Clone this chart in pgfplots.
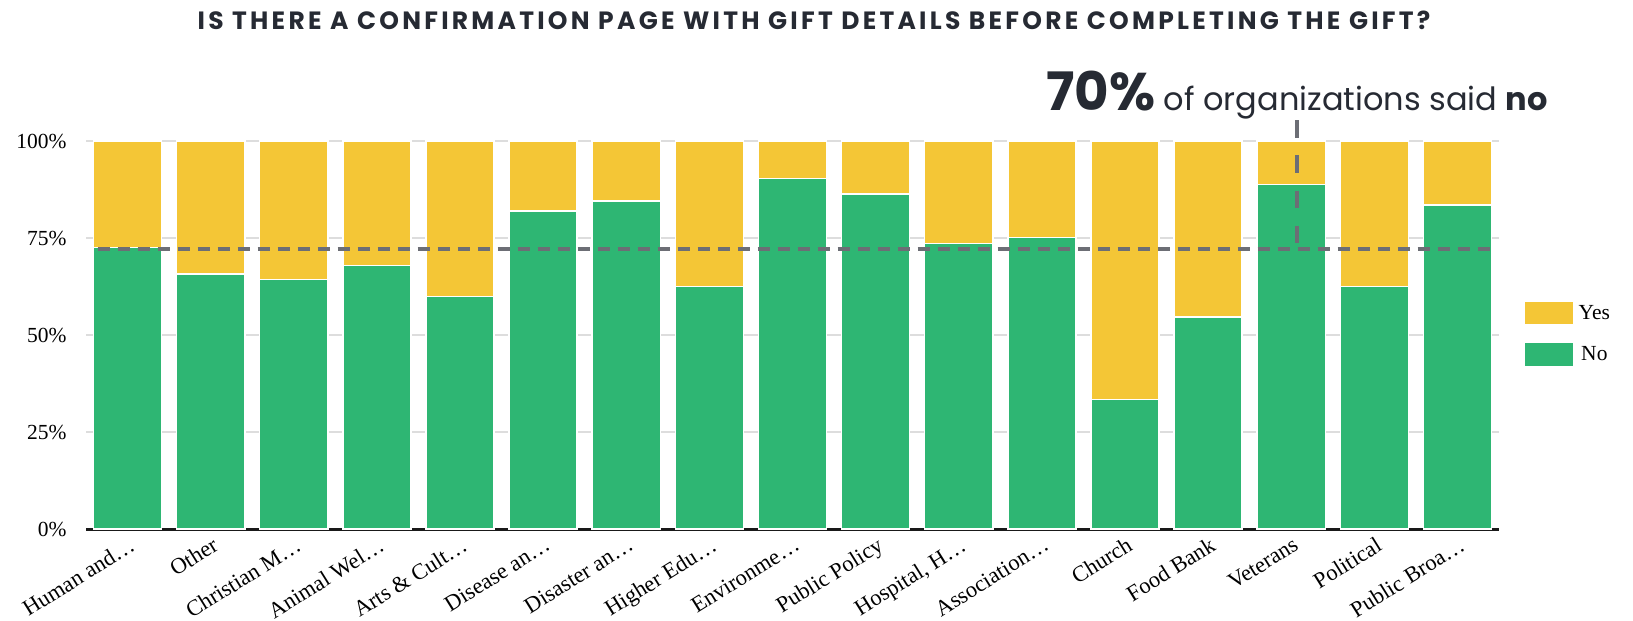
\documentclass[border=0pt]{standalone}
\usepackage{pgfplots}
\pgfplotsset{compat=1.18}
\usepackage{fontspec}
\setmainfont{Liberation Serif}
\newfontfamily\pop{Poppins}
\newfontfamily\poptitle{Poppins}[LetterSpace=13]

\definecolor{yesc}{RGB}{244,198,54}
\definecolor{noc}{RGB}{46,182,115}
\definecolor{dashc}{RGB}{108,110,117}
\definecolor{titlec}{RGB}{38,42,51}
\definecolor{gridc}{RGB}{221,221,221}

\begin{document}
\begin{tikzpicture}
\begin{axis}[
  at={(86pt,-529pt)}, anchor=south west,
  scale only axis, width=1413pt, height=388pt,
  ybar stacked, bar width=0.82,
  xmin=-0.5, xmax=16.5, ymin=0, ymax=100,
  xtick=data,
  xticklabels={Human and…, Other, Christian M…, Animal Wel…, Arts \& Cult…,
    Disease an…, Disaster an…, Higher Edu…, Environme…, Public Policy,
    {Hospital, H…}, Association…, Church, Food Bank, Veterans, Political,
    Public Broa…},
  ytick={0,25,50,75,100},
  yticklabels={0\%,25\%,50\%,75\%,100\%},
  ymajorgrids, grid style={gridc, line width=2.5pt},
  axis x line*=bottom, axis y line*=left,
  x axis line style={black!90, line width=3pt, -},
  y axis line style={draw=none},
  major tick length=0pt,
  tick label style={font=\fontsize{21.5}{24}\selectfont},
  xticklabel style={rotate=32, anchor=north east, yshift=-3pt,
    font=\fontsize{22.5}{25}\selectfont},
  yticklabel style={xshift=-16pt},
  clip=false,
  legend image code/.code={\fill[#1] (0pt,-12pt) rectangle (50pt,12pt);},
  legend style={draw=none, fill=none, at={(1.017,0.503)}, anchor=west,
    font=\fontsize{21.5}{24}\selectfont, row sep=16pt, inner sep=0pt,
    nodes={inner sep=4pt}},
  reverse legend,
]
% No (bottom)
\addplot[fill=noc, draw=white, line width=1.5pt] coordinates {
  (0,72.6) (1,65.7) (2,64.3) (3,67.9) (4,59.9) (5,82.0) (6,84.5) (7,62.5)
  (8,90.3) (9,86.3) (10,73.6) (11,75.1) (12,33.4) (13,54.6) (14,88.8)
  (15,62.5) (16,83.5)
};
% Yes (top)
\addplot[fill=yesc, draw=white, line width=1.5pt] coordinates {
  (0,27.4) (1,34.3) (2,35.7) (3,32.1) (4,40.1) (5,18.0) (6,15.5) (7,37.5)
  (8,9.7) (9,13.7) (10,26.4) (11,24.9) (12,66.6) (13,45.4) (14,11.2)
  (15,37.5) (16,16.5)
};
\legend{No,Yes}
% reference line ends, drawn after the axis so they sit on top of the bars
\coordinate (hA) at (axis cs:-0.36,72.2);
\coordinate (hB) at (axis cs:16.4,72.2);
\coordinate (vA) at (axis cs:14.07,105.4);
\coordinate (vB) at (axis cs:14.07,73.6);
\end{axis}

\draw[dashc, line width=4pt, dash pattern=on 12pt off 8pt] (hA) -- (hB);
\draw[dashc, line width=4pt, dash pattern=on 17.7pt off 17.6pt] (vA) -- (vB);

\node[anchor=base, text=titlec, inner sep=0pt,
  font=\poptitle\bfseries\fontsize{25}{27}\selectfont] at (814pt,-29pt)
  {IS THERE A CONFIRMATION PAGE WITH GIFT DETAILS BEFORE COMPLETING THE GIFT?};
\node[anchor=base east, text=titlec, inner sep=0pt] at (1548pt,-110pt)
  {{\pop\bfseries\fontsize{53}{55}\selectfont 70\%}%
   {\pop\fontsize{32}{34}\selectfont\ of organizations said \bfseries no}};

\pgfresetboundingbox
\path[use as bounding box] (0pt,0pt) rectangle (1633pt,-621pt);
\end{tikzpicture}
\end{document}
